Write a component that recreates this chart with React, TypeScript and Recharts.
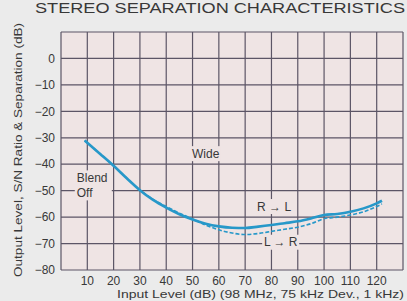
import React from 'react';
import { LineChart, Line, XAxis, YAxis, CartesianGrid, ReferenceDot } from 'recharts';

const inputLevel = [9, 15, 20, 25, 30, 35, 40, 45, 50, 55, 60, 65, 70, 75, 80, 85, 90, 95, 100, 105, 110, 115, 120, 122];
const rToL = [-31, -36.2, -40.6, -45.3, -49.8, -53.5, -56.4, -58.9, -60.9, -62.5, -63.5, -64, -64.1, -63.6, -63, -62.3, -61.6, -60.5, -59.2, -58.8, -58, -56.7, -54.8, -53.8];
const lToR = [-31, -36.2, -40.6, -45.3, -49.8, -53.3, -56, -58.5, -60.7, -63, -64.8, -66, -66.6, -66.2, -65.4, -64.6, -63.8, -62.5, -60.6, -60, -59.2, -58, -56, -55];

const xTicks = [0, 10, 20, 30, 40, 50, 60, 70, 80, 90, 100, 110, 120, 130];
const yTicks = [-80, -70, -60, -50, -40, -30, -20, -10, 0, 10];

const title = 'STEREO SEPARATION CHARACTERISTICS';
const yTitle = 'Output Level, S/N Ratio & Separation (dB)';
const xTitle = 'Input Level (dB)  (98 MHz, 75 kHz Dev., 1 kHz)';

const annotations = [
  { x: 55, y: -36, lines: ['Wide'], anchor: 'middle' },
  { x: 6, y: -48, lines: ['Blend', 'Off'], anchor: 'start' },
  { x: 81, y: -56, lines: ['R \u2192 L'], anchor: 'middle' },
  { x: 83.5, y: -69.5, lines: ['L \u2192 R'], anchor: 'middle' },
];

const data = inputLevel.map((x, i) => ({ x, rl: rToL[i], lr: lToR[i] }));

const PLOT_BG = '#efe4e4';
const GRID = '#5c5566';
const TEXT = '#383838';
const CURVE = '#2798c9';
const FONT = '"Liberation Sans", Arial, Helvetica, sans-serif';

const fmtY = (v: number) => (v === 10 ? '' : v < 0 ? '\u2212' + Math.abs(v) : String(v));
const fmtX = (v: number) => (v === 0 || v === 130 ? '' : String(v));

function makeLabel(lines: string[], anchor: string) {
  return (props: any) => {
    const { cx, cy } = props;
    const lh = 15;
    const fs = 12;
    const widths = lines.map((l) => l.length * 6.6);
    const w = Math.max(...widths) + 4;
    const h = lines.length * lh;
    const left = anchor === 'start' ? cx - 2 : cx - w / 2;
    const top = cy - h / 2;
    return (
      <g>
        <rect x={left} y={top} width={w} height={h} fill={PLOT_BG} />
        {lines.map((l, i) => (
          <text
            key={i}
            x={cx}
            y={top + lh * i + lh / 2}
            dy="0.35em"
            textAnchor={anchor as any}
            fontSize={fs}
            fill={TEXT}
            fontFamily={FONT}
          >
            {l}
          </text>
        ))}
      </g>
    );
  };
}

export default function App() {
  return (
    <div style={{ position: 'fixed', left: 0, top: 0, width: 407, height: 301, background: '#ebebeb', overflow: 'hidden' }}>
      <svg width={407} height={301} style={{ position: 'absolute', left: 0, top: 0 }}>
        <text x={35} y={13} fontSize={14} fill={TEXT} fontFamily={FONT} textLength={370} lengthAdjust="spacingAndGlyphs">
          {title}
        </text>
        <text
          x={0}
          y={0}
          transform="translate(22,150) rotate(-90)"
          textAnchor="middle"
          fontSize={11.5}
          fill={TEXT}
          fontFamily={FONT}
          textLength={254}
          lengthAdjust="spacingAndGlyphs"
        >
          {yTitle}
        </text>
        <text x={404} y={298} textAnchor="end" fontSize={11.5} fill={TEXT} fontFamily={FONT} textLength={287} lengthAdjust="spacingAndGlyphs">
          {xTitle}
        </text>
      </svg>
      <div style={{ position: 'absolute', left: 0, top: 0 }}>
        <LineChart width={407} height={301} data={data} margin={{ top: 32, right: 4, bottom: 0, left: 0 }} style={{ fontFamily: FONT }}>
          <CartesianGrid fill={PLOT_BG} fillOpacity={1} stroke={GRID} strokeWidth={1.2} />
          <XAxis
            dataKey="x"
            type="number"
            domain={[0, 130]}
            ticks={xTicks}
            tickFormatter={fmtX}
            axisLine={false}
            tickLine={false}
            tickSize={0}
            tickMargin={6}
            height={31}
            interval={0}
            tick={{ fill: TEXT, fontSize: 12, fontFamily: FONT }}
          />
          <YAxis
            type="number"
            domain={[-80, 10]}
            ticks={yTicks}
            tickFormatter={fmtY}
            axisLine={false}
            tickLine={false}
            tickSize={0}
            tickMargin={6}
            width={61}
            interval={0}
            tick={{ fill: TEXT, fontSize: 12, fontFamily: FONT }}
          />
          {annotations.map((a, i) => (
            <ReferenceDot key={i} x={a.x} y={a.y} r={0} shape={makeLabel(a.lines, a.anchor)} />
          ))}
          <Line dataKey="lr" type="monotone" stroke={CURVE} strokeWidth={1.6} strokeDasharray="4 2" dot={false} isAnimationActive={false} />
          <Line dataKey="rl" type="monotone" stroke={CURVE} strokeWidth={2.6} dot={false} isAnimationActive={false} />
        </LineChart>
      </div>
    </div>
  );
}
